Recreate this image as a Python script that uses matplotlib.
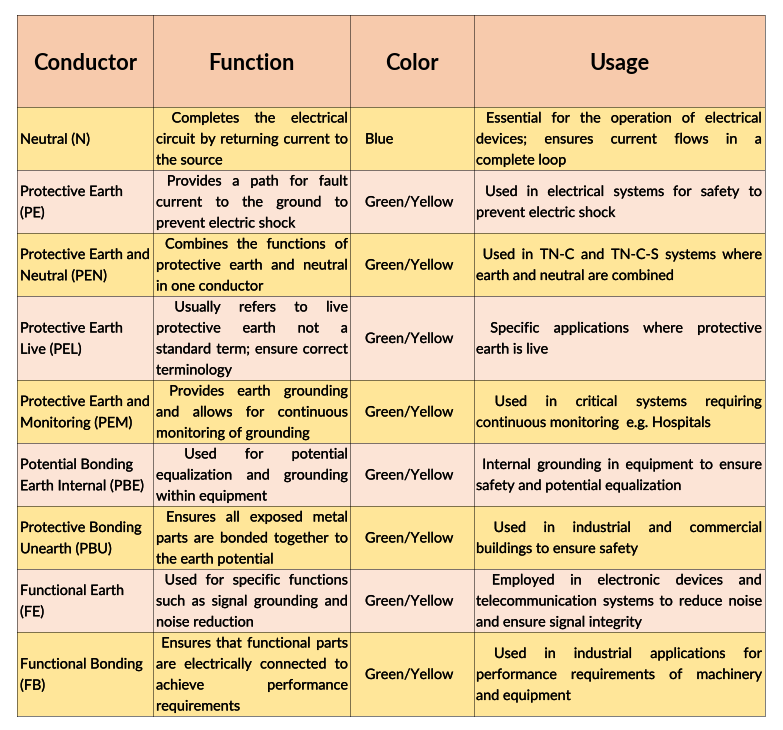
import matplotlib
matplotlib.use('Agg')
import matplotlib.pyplot as plt
from matplotlib.patches import Rectangle
from matplotlib.font_manager import FontProperties
import matplotlib.patheffects as pe

headers = ["Conductor", "Function", "Color", "Usage"]

conductors = [
    ["Neutral (N)"],
    ["Protective Earth", "(PE)"],
    ["Protective Earth and", "Neutral (PEN)"],
    ["Protective Earth", "Live (PEL)"],
    ["Protective Earth and", "Monitoring (PEM)"],
    ["Potential Bonding", "Earth Internal (PBE)"],
    ["Protective Bonding", "Unearth (PBU)"],
    ["Functional Earth", "(FE)"],
    ["Functional Bonding", "(FB)"],
]

functions = [
    ["Completes the electrical", "circuit by returning current to", "the source"],
    ["Provides a path for fault", "current to the ground to", "prevent electric shock"],
    ["Combines the functions of", "protective earth and neutral", "in one conductor"],
    ["Usually refers to live", "protective earth not a", "standard term; ensure correct", "terminology"],
    ["Provides earth grounding", "and allows for continuous", "monitoring of grounding"],
    ["Used for potential", "equalization and grounding", "within equipment"],
    ["Ensures all exposed metal", "parts are bonded together to", "the earth potential"],
    ["Used for specific functions", "such as signal grounding and", "noise reduction"],
    ["Ensures that functional parts", "are electrically connected to", "achieve performance", "requirements"],
]

wire_colors = ["Blue", "Green/Yellow", "Green/Yellow", "Green/Yellow", "Green/Yellow",
               "Green/Yellow", "Green/Yellow", "Green/Yellow", "Green/Yellow"]

usages = [
    ["Essential for the operation of electrical", "devices; ensures current flows in a", "complete loop"],
    ["Used in electrical systems for safety to", "prevent electric shock"],
    ["Used in TN-C and TN-C-S systems where", "earth and neutral are combined"],
    ["Specific applications where protective", "earth is live"],
    ["Used in critical systems requiring", "continuous monitoring  e.g. Hospitals"],
    ["Internal grounding in equipment to ensure", "safety and potential equalization"],
    ["Used in industrial and commercial", "buildings to ensure safety"],
    ["Employed in electronic devices and", "telecommunication systems to reduce noise", "and ensure signal integrity"],
    ["Used in industrial applications for", "performance requirements of machinery", "and equipment"],
]

# ---------------- layout / style ----------------
W, H = 783, 730
fig = plt.figure(figsize=(W / 100, H / 100), dpi=100)
ax = fig.add_axes([0, 0, 1, 1])
ax.set_xlim(0, W)
ax.set_ylim(H, 0)
ax.axis('off')

col_x = [17, 153, 350, 474, 765]
top = 15
header_h = 92
line_h = 21

HEAD_BG = (247 / 255, 202 / 255, 172 / 255)
YEL_BG = (255 / 255, 230 / 255, 153 / 255)
PINK_BG = (252 / 255, 228 / 255, 214 / 255)
TXT = '#000000'

renderer = fig.canvas.get_renderer()


def tw(s, fp):
    w, h, d = renderer.get_text_width_height_descent(s, fp, ismath=False)
    return w


FAM = 'Lato'
fp0 = FontProperties(family=FAM, size=10)
body_size = 10 * 130 / tw("Protective Earth and", fp0)
body_fp = FontProperties(family=FAM, size=body_size)
hp0 = FontProperties(family=FAM, size=10, weight='bold')
head_size = 10 * 104 / tw("Conductor", hp0)
head_fp = FontProperties(family=FAM, size=head_size, weight='bold')

thick = [pe.Stroke(linewidth=0.15, foreground=TXT), pe.Normal()]


def put(x, y, s, fp, ha='left', effects=True):
    ax.text(x, y, s, fontproperties=fp, ha=ha, va='center_baseline', color=TXT,
            path_effects=thick if effects else None)


def line_ys(yc, n):
    return [yc + (i - (n - 1) / 2) * line_h for i in range(n)]


def justified(lines, x0, x1, yc, fp):
    n = len(lines)
    for i, (line, y) in enumerate(zip(lines, line_ys(yc, n))):
        if i == n - 1:
            put(x0, y, line, fp)
            continue
        words = line.split()
        if i == 0:
            words = [''] + words
        widths = [tw(w, fp) if w else 0 for w in words]
        gap = (x1 - x0 - sum(widths)) / (len(words) - 1)
        x = x0
        for w, wd in zip(words, widths):
            if w:
                put(x, y, w, fp)
            x += wd + gap


# header
for j, htxt in enumerate(headers):
    ax.add_patch(Rectangle((col_x[j], top), col_x[j + 1] - col_x[j], header_h,
                           facecolor=HEAD_BG, edgecolor='none'))
    put((col_x[j] + col_x[j + 1]) / 2, top + header_h / 2 + 1, htxt, head_fp,
        ha='center', effects=False)

# body
row_edges = [top, top + header_h]
y = top + header_h
for r in range(len(conductors)):
    nlines = max(len(conductors[r]), len(functions[r]), len(usages[r]))
    h = line_h * nlines
    bg = YEL_BG if r % 2 == 0 else PINK_BG
    ax.add_patch(Rectangle((col_x[0], y), col_x[-1] - col_x[0], h,
                           facecolor=bg, edgecolor='none'))
    yc = y + h / 2
    for ly, s in zip(line_ys(yc, len(conductors[r])), conductors[r]):
        put(col_x[0] + 3, ly, s, body_fp)
    justified(functions[r], col_x[1] + 3, col_x[2] - 2, yc, body_fp)
    put(col_x[2] + 15, yc, wire_colors[r], body_fp)
    justified(usages[r], col_x[3] + 2, col_x[4] - 3, yc, body_fp)
    y += h
    row_edges.append(y)

# dotted grid
ls = (0, (1, 1))
lw = 0.72
for ye in row_edges:
    ax.plot([col_x[0], col_x[-1]], [ye, ye], color='black', lw=lw, linestyle=ls)
for xe in col_x:
    ax.plot([xe, xe], [row_edges[0], row_edges[-1]], color='black', lw=lw, linestyle=ls)

fig.savefig('out.png', dpi=100, facecolor='white')
